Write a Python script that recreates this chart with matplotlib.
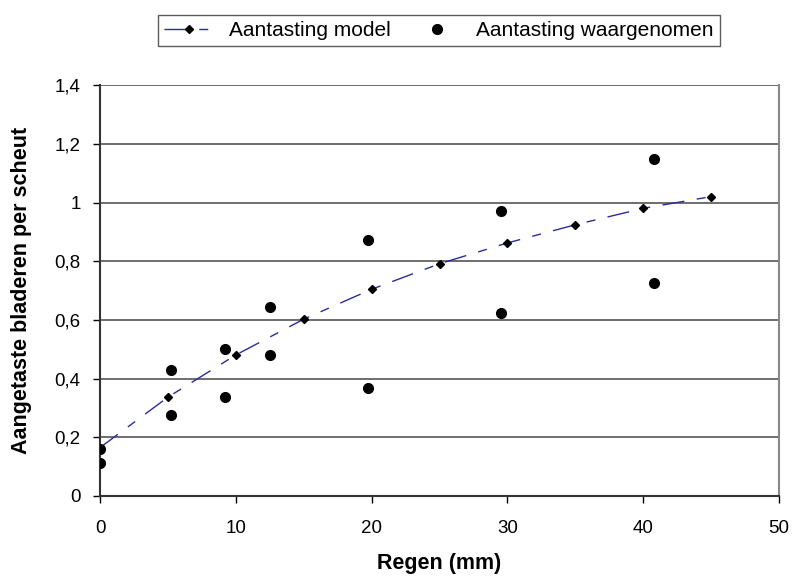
import matplotlib
matplotlib.use("Agg")
import matplotlib.pyplot as plt

# ---- data ----
model_x = [0, 5, 10, 15, 20, 25, 30, 35, 40, 45]
model_y = [0.165, 0.337, 0.481, 0.603, 0.705, 0.792, 0.863, 0.925, 0.981, 1.021]

obs_x = [0, 0, 5.2, 5.2, 9.2, 9.2, 12.5, 12.5, 19.7, 19.7, 29.5, 29.5, 40.8, 40.8]
obs_y = [0.160, 0.112, 0.429, 0.276, 0.500, 0.338, 0.645, 0.481, 0.874, 0.368,
         0.972, 0.624, 1.150, 0.726]

x_ticks = [0, 10, 20, 30, 40, 50]
y_ticks = [0, 0.2, 0.4, 0.6, 0.8, 1.0, 1.2, 1.4]
y_tick_labels = ["0", "0,2", "0,4", "0,6", "0,8", "1", "1,2", "1,4"]

label_model = "Aantasting model"
label_obs = "Aantasting waargenomen"
xlabel = "Regen (mm)"
ylabel = "Aangetaste bladeren per scheut"

tickfont = "Liberation Sans"
plt.rcParams['lines.scale_dashes'] = False

fig = plt.figure(figsize=(7.95, 5.82), dpi=100)
ax = fig.add_axes([100/795, 1 - 496/582, (779 - 100)/795, (496 - 85.5)/582])

ax.plot(model_x, model_y, color="#2B2B9B", lw=1.0, dashes=(16, 9, 6.5, 9),
        marker="D", markersize=3.6, markerfacecolor="black", markeredgecolor="black",
        label=label_model, zorder=3)
ax.plot(obs_x, obs_y, linestyle="none", marker="o", markersize=7,
        color="black", label=label_obs, zorder=4)

ax.set_xlim(0, 50)
ax.set_ylim(0, 1.4)
ax.set_xticks(x_ticks)
ax.set_xticklabels([str(v) for v in x_ticks], family=tickfont, fontsize=13.5)
ax.set_yticks(y_ticks)
ax.set_yticklabels(y_tick_labels, family=tickfont, fontsize=13.5)
ax.tick_params(axis="both", direction="out", length=5, width=1, color="black")
ax.tick_params(axis="y", pad=9)
ax.tick_params(axis="x", pad=12)

ax.yaxis.grid(True, color="#555555", lw=1.2)
ax.set_axisbelow(True)
ax.spines["right"].set_color("#888888")
ax.spines["right"].set_linewidth(1.5)
ax.spines["top"].set_visible(False)
for s in ["left", "bottom"]:
    ax.spines[s].set_color("#333333")
    ax.spines[s].set_linewidth(1.5)

ax.set_xlabel(xlabel, family="Liberation Sans", fontweight="bold", fontsize=15.5, labelpad=12)
ax.set_ylabel(ylabel, family="Liberation Sans", fontweight="bold", fontsize=15.5, labelpad=16)

leg = fig.legend(loc="center", bbox_to_anchor=(439/795, 1 - 30.5/582), ncol=2,
                 frameon=True, fancybox=False, prop={"family": tickfont, "size": 15},
                 handlelength=2.4, columnspacing=1.0, borderpad=0.3, handletextpad=0.7,
                 edgecolor="#333333")
leg.get_frame().set_linewidth(1.0)

fig.savefig("out.png", dpi=100)
